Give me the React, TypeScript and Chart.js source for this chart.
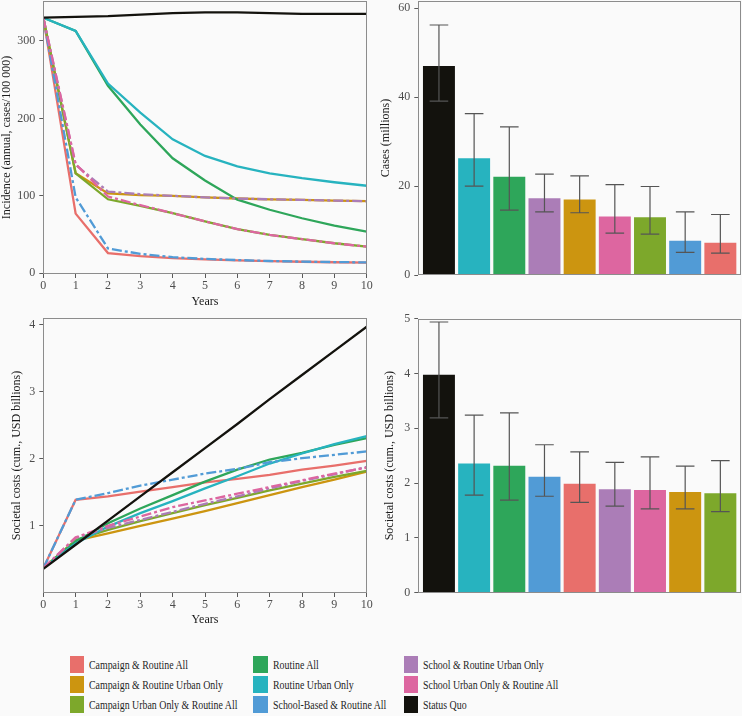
import React, { useEffect, useRef } from "react";
import { Chart, registerables } from "chart.js";

Chart.register(...registerables);

const FONT_FAMILY = "'Liberation Serif', 'Times New Roman', serif";
const BG = "#fafafa";
const TICK_COLOR = "#4d4d4d";
const TITLE_COLOR = "#1a1a1a";
const FRAME_COLOR = "#8c8c8c";
const TICKMARK_COLOR = "#5a5a5a";

// ---------- data ----------
const years = [0, 1, 2, 3, 4, 5, 6, 7, 8, 9, 10];

const strategies = [
  "Campaign & Routine All",
  "Campaign & Routine Urban Only",
  "Campaign Urban Only & Routine All",
  "Routine All",
  "Routine Urban Only",
  "School-Based & Routine All",
  "School & Routine Urban Only",
  "School Urban Only & Routine All",
  "Status Quo",
];
const strategyColors = [
  "#e86f6b",
  "#cc9510",
  "#7da82b",
  "#2ea65a",
  "#27b3bf",
  "#519bd6",
  "#ab7db7",
  "#dd66a0",
  "#13120d",
];
const strategyDashed = [false, false, false, false, false, true, true, true, false];

// Incidence (annual, cases/100 000)
const incCampaignRoutineAll = [330, 77, 26, 22, 19.5, 18, 16.5, 15.5, 14.8, 14.2, 13.8];
const incCampaignRoutineUrban = [330, 129, 103, 101, 100, 98, 96.5, 95.5, 94.7, 93.8, 93];
const incCampaignUrbanRoutineAll = [330, 129, 95.5, 87, 77.5, 67, 57, 49.5, 44, 38.7, 34.4];
const incRoutineAll = [330, 313, 242, 192, 148.5, 119.7, 95, 82, 71, 61.5, 53.8];
const incRoutineUrban = [330, 313, 245, 207.5, 173, 151.5, 138, 129, 122.7, 117.5, 113];
const incSchoolRoutineAll = [330, 98, 32, 25, 20.7, 18.5, 17, 15.8, 15, 14.4, 14];
const incSchoolRoutineUrban = [330, 140, 105.5, 102, 100, 98, 96.5, 95.5, 94.7, 93.8, 93];
const incSchoolUrbanRoutineAll = [330, 141, 99, 88, 77.5, 67, 57, 49.5, 44, 38.7, 34.4];
const incStatusQuo = [330, 331, 332, 334, 336, 337, 337, 336, 335, 335, 335];
const incidenceSeries = [
  incCampaignRoutineAll,
  incCampaignRoutineUrban,
  incCampaignUrbanRoutineAll,
  incRoutineAll,
  incRoutineUrban,
  incSchoolRoutineAll,
  incSchoolRoutineUrban,
  incSchoolUrbanRoutineAll,
  incStatusQuo,
];

// Societal costs (cum., USD billions)
const costCampaignRoutineAll = [0.37, 1.39, 1.44, 1.51, 1.58, 1.65, 1.7, 1.76, 1.84, 1.9, 1.97];
const costCampaignRoutineUrban = [0.37, 0.78, 0.89, 1.0, 1.11, 1.22, 1.34, 1.46, 1.58, 1.69, 1.81];
const costCampaignUrbanRoutineAll = [0.37, 0.79, 0.94, 1.07, 1.19, 1.31, 1.42, 1.53, 1.63, 1.73, 1.82];
const costRoutineAll = [0.37, 0.77, 1.04, 1.26, 1.46, 1.66, 1.84, 1.99, 2.09, 2.21, 2.31];
const costRoutineUrban = [0.37, 0.74, 0.99, 1.19, 1.37, 1.56, 1.74, 1.93, 2.08, 2.22, 2.34];
const costSchoolRoutineAll = [0.37, 1.39, 1.49, 1.6, 1.69, 1.78, 1.85, 1.95, 2.01, 2.06, 2.11];
const costSchoolRoutineUrban = [0.37, 0.82, 0.97, 1.09, 1.21, 1.33, 1.44, 1.56, 1.67, 1.77, 1.88];
const costSchoolUrbanRoutineAll = [0.37, 0.83, 1.0, 1.14, 1.28, 1.38, 1.48, 1.58, 1.68, 1.78, 1.87];
const costStatusQuo = [0.36, 0.72, 1.08, 1.44, 1.8, 2.16, 2.52, 2.89, 3.25, 3.61, 3.97];
const costSeries = [
  costCampaignRoutineAll,
  costCampaignRoutineUrban,
  costCampaignUrbanRoutineAll,
  costRoutineAll,
  costRoutineUrban,
  costSchoolRoutineAll,
  costSchoolRoutineUrban,
  costSchoolUrbanRoutineAll,
  costStatusQuo,
];

const incidenceTicks = [0, 100, 200, 300];
const costLineTicks = [1, 2, 3, 4];
const casesTicks = [0, 20, 40, 60];
const costBarTicks = [0, 1, 2, 3, 4, 5];

// Cases (millions), 10-year totals
const casesCategories = [
  "Status Quo",
  "Routine Urban Only",
  "Routine All",
  "School & Routine Urban Only",
  "Campaign & Routine Urban Only",
  "School Urban Only & Routine All",
  "Campaign Urban Only & Routine All",
  "School-Based & Routine All",
  "Campaign & Routine All",
];
const casesValues = [46.9, 26.2, 22.0, 17.2, 16.9, 13.1, 12.9, 7.6, 7.2];
const casesLow = [39.1, 20.0, 14.6, 14.2, 14.0, 9.4, 9.2, 5.1, 4.9];
const casesHigh = [56.2, 36.3, 33.3, 22.7, 22.3, 20.3, 19.9, 14.2, 13.6];

// Societal costs (cum., USD billions), 10-year totals
const costBarCategories = [
  "Status Quo",
  "Routine Urban Only",
  "Routine All",
  "School-Based & Routine All",
  "Campaign & Routine All",
  "School & Routine Urban Only",
  "School Urban Only & Routine All",
  "Campaign & Routine Urban Only",
  "Campaign Urban Only & Routine All",
];
const costBarValues = [3.97, 2.35, 2.31, 2.11, 1.98, 1.88, 1.87, 1.83, 1.81];
const costBarLow = [3.19, 1.78, 1.69, 1.76, 1.65, 1.58, 1.53, 1.53, 1.48];
const costBarHigh = [4.94, 3.24, 3.28, 2.7, 2.57, 2.38, 2.48, 2.31, 2.41];

// ---------- helpers ----------
const tickFont = { family: FONT_FAMILY, size: 12 };
const titleFont = { family: FONT_FAMILY, size: 12 };

const zeroPad = (s: any) => {
  s.paddingTop = 0;
  s.paddingBottom = 0;
  s.paddingLeft = 0;
  s.paddingRight = 0;
};
const fixWidth = (w: number) => (s: any) => {
  s.width = w;
  zeroPad(s);
};
const fixHeight = (h: number) => (s: any) => {
  s.height = h;
  zeroPad(s);
};
const setTicks = (vals: number[]) => (s: any) => {
  s.ticks = vals.map((v) => ({ value: v }));
};

const framePlugin = {
  id: "frame",
  afterDraw(chart: any) {
    const { ctx, chartArea: a } = chart;
    ctx.save();
    ctx.strokeStyle = FRAME_COLOR;
    ctx.lineWidth = 1;
    const l = Math.round(a.left) + 0.5;
    const t = Math.round(a.top) + 0.5;
    const r = Math.round(a.right) - 0.5;
    const b = Math.round(a.bottom) - 0.5;
    ctx.strokeRect(l, t, r - l, b - t);
    ctx.restore();
  },
};

function errorBarPlugin(low: number[], high: number[]) {
  return {
    id: "errorBars",
    afterDatasetsDraw(chart: any) {
      const meta = chart.getDatasetMeta(0);
      const yScale = chart.scales.y;
      const ctx = chart.ctx;
      ctx.save();
      ctx.strokeStyle = "#555555";
      ctx.lineWidth = 1.2;
      meta.data.forEach((bar: any, i: number) => {
        const x = bar.x;
        const yl = yScale.getPixelForValue(low[i]);
        const yh = yScale.getPixelForValue(high[i]);
        const half = 9.3;
        ctx.beginPath();
        ctx.moveTo(x, yl);
        ctx.lineTo(x, yh);
        ctx.moveTo(x - half, yl);
        ctx.lineTo(x + half, yl);
        ctx.moveTo(x - half, yh);
        ctx.lineTo(x + half, yh);
        ctx.stroke();
      });
      ctx.restore();
    },
  };
}

const gridOpts = {
  drawOnChartArea: false,
  drawTicks: true,
  tickLength: 4,
  color: TICKMARK_COLOR,
  tickColor: TICKMARK_COLOR,
};

interface LineParams {
  padding: { left: number; right: number; top: number; bottom: number };
  yWidth: number;
  xHeight: number;
  yMin: number;
  yMax: number;
  yTicks: number[];
  yTitle: string;
  yTitlePad: number;
  xTitlePad: number;
}

function lineConfig(series: number[][], p: LineParams): any {
  return {
    type: "line",
    data: {
      datasets: strategies.map((name, i) => ({
        label: name,
        data: years.map((x, j) => ({ x, y: series[i][j] })),
        borderColor: strategyColors[i],
        backgroundColor: strategyColors[i],
        borderWidth: 2.3,
        borderDash: strategyDashed[i] ? [10, 3, 3, 3] : [],
        pointRadius: 0,
        pointHoverRadius: 0,
        tension: 0,
        fill: false,
        order: strategies.length - i,
      })),
    },
    options: {
      responsive: false,
      animation: false,
      devicePixelRatio: 1,
      layout: { padding: p.padding },
      plugins: { legend: { display: false }, tooltip: { enabled: false } },
      scales: {
        x: {
          type: "linear",
          min: 0,
          max: 10,
          afterBuildTicks: setTicks(years),
          afterFit: fixHeight(p.xHeight),
          ticks: { font: tickFont, color: TICK_COLOR, padding: 1, maxRotation: 0, autoSkip: false },
          grid: gridOpts,
          border: { display: false },
          title: {
            display: true,
            text: "Years",
            font: titleFont,
            color: TITLE_COLOR,
            padding: { top: 0, bottom: p.xTitlePad },
          },
        },
        y: {
          type: "linear",
          min: p.yMin,
          max: p.yMax,
          afterBuildTicks: setTicks(p.yTicks),
          afterFit: fixWidth(p.yWidth),
          ticks: { font: tickFont, color: TICK_COLOR, padding: 4 },
          grid: gridOpts,
          border: { display: false },
          title: {
            display: true,
            text: p.yTitle,
            font: titleFont,
            color: TITLE_COLOR,
            padding: { top: p.yTitlePad, bottom: 0 },
          },
        },
      },
    },
    plugins: [framePlugin],
  };
}

interface BarParams {
  padding: { left: number; right: number; top: number; bottom: number };
  yWidth: number;
  yMax: number;
  yTicks: number[];
  yTitle: string;
  yTitlePad: number;
}

function barConfig(cats: string[], vals: number[], low: number[], high: number[], p: BarParams): any {
  return {
    type: "bar",
    data: {
      datasets: [
        {
          label: p.yTitle,
          data: cats.map((c, i) => ({ x: i, y: vals[i] })),
          backgroundColor: cats.map((c) => strategyColors[strategies.indexOf(c)]),
          borderWidth: 0,
          barThickness: 31.3,
        },
      ],
    },
    options: {
      responsive: false,
      animation: false,
      devicePixelRatio: 1,
      layout: { padding: p.padding },
      plugins: { legend: { display: false }, tooltip: { enabled: false } },
      scales: {
        x: {
          type: "linear",
          display: false,
          min: -0.587,
          max: 8.587,
          offset: false,
          afterFit: fixHeight(0),
        },
        y: {
          type: "linear",
          min: 0,
          max: p.yMax,
          afterBuildTicks: setTicks(p.yTicks),
          afterFit: fixWidth(p.yWidth),
          ticks: { font: tickFont, color: TICK_COLOR, padding: 4 },
          grid: gridOpts,
          border: { display: false },
          title: {
            display: true,
            text: p.yTitle,
            font: titleFont,
            color: TITLE_COLOR,
            padding: { top: p.yTitlePad, bottom: 0 },
          },
        },
      },
    },
    plugins: [errorBarPlugin(low, high), framePlugin],
  };
}

function ChartCanvas(props: { left: number; top: number; width: number; height: number; makeConfig: () => any }) {
  const ref = useRef<HTMLCanvasElement | null>(null);
  useEffect(() => {
    const chart = new Chart(ref.current as HTMLCanvasElement, props.makeConfig());
    return () => chart.destroy();
  }, []);
  return (
    <canvas
      ref={ref}
      width={props.width}
      height={props.height}
      style={{ position: "absolute", left: props.left, top: props.top, width: props.width, height: props.height }}
    />
  );
}

const legendSquareX = [70, 253.3, 404];
const legendTextX = [89.3, 273.3, 422.7];

export default function App() {
  return (
    <div
      style={{
        position: "fixed",
        left: 0,
        top: 0,
        width: 742,
        height: 716,
        background: BG,
        overflow: "hidden",
        fontFamily: FONT_FAMILY,
      }}
    >
      <ChartCanvas
        left={0}
        top={0}
        width={376}
        height={310}
        makeConfig={() =>
          lineConfig(incidenceSeries, {
            padding: { left: 0, right: 9.3, top: 1, bottom: 0 },
            yWidth: 43.3,
            xHeight: 36,
            yMin: -1,
            yMax: 351.6,
            yTicks: incidenceTicks,
            yTitle: "Incidence (annual, cases/100 000)",
            yTitlePad: 0,
            xTitlePad: 1,
          })
        }
      />
      <ChartCanvas
        left={372}
        top={0}
        width={370}
        height={310}
        makeConfig={() =>
          barConfig(casesCategories, casesValues, casesLow, casesHigh, {
            padding: { left: 0, right: 1, top: 1, bottom: 35 },
            yWidth: 46.3,
            yMax: 61.6,
            yTicks: casesTicks,
            yTitle: "Cases (millions)",
            yTitlePad: 7,
          })
        }
      />
      <ChartCanvas
        left={0}
        top={310}
        width={376}
        height={320}
        makeConfig={() =>
          lineConfig(costSeries, {
            padding: { left: 0, right: 9.3, top: 8, bottom: 0 },
            yWidth: 43.3,
            xHeight: 37,
            yMin: 0,
            yMax: 4.1,
            yTicks: costLineTicks,
            yTitle: "Societal costs (cum., USD billions)",
            yTitlePad: 10,
            xTitlePad: 2.8,
          })
        }
      />
      <ChartCanvas
        left={372}
        top={310}
        width={370}
        height={320}
        makeConfig={() =>
          barConfig(costBarCategories, costBarValues, costBarLow, costBarHigh, {
            padding: { left: 0, right: 1, top: 8.7, bottom: 37.3 },
            yWidth: 46.3,
            yMax: 5,
            yTicks: costBarTicks,
            yTitle: "Societal costs (cum., USD billions)",
            yTitlePad: 11,
          })
        }
      />
      {strategies.map((name, i) => {
        const col = Math.floor(i / 3);
        const row = i % 3;
        const top = 655.7 + row * 20;
        return (
          <React.Fragment key={name}>
            <div
              style={{
                position: "absolute",
                left: legendSquareX[col],
                top,
                width: 14.3,
                height: 17.7,
                background: strategyColors[i],
              }}
            />
            <div
              style={{
                position: "absolute",
                left: legendTextX[col],
                top,
                height: 17.7,
                lineHeight: "17.7px",
                fontSize: 13,
                color: "#1f1f1f",
                whiteSpace: "nowrap",
                transform: "scaleX(0.76)",
                transformOrigin: "left center",
              }}
            >
              {name}
            </div>
          </React.Fragment>
        );
      })}
    </div>
  );
}
